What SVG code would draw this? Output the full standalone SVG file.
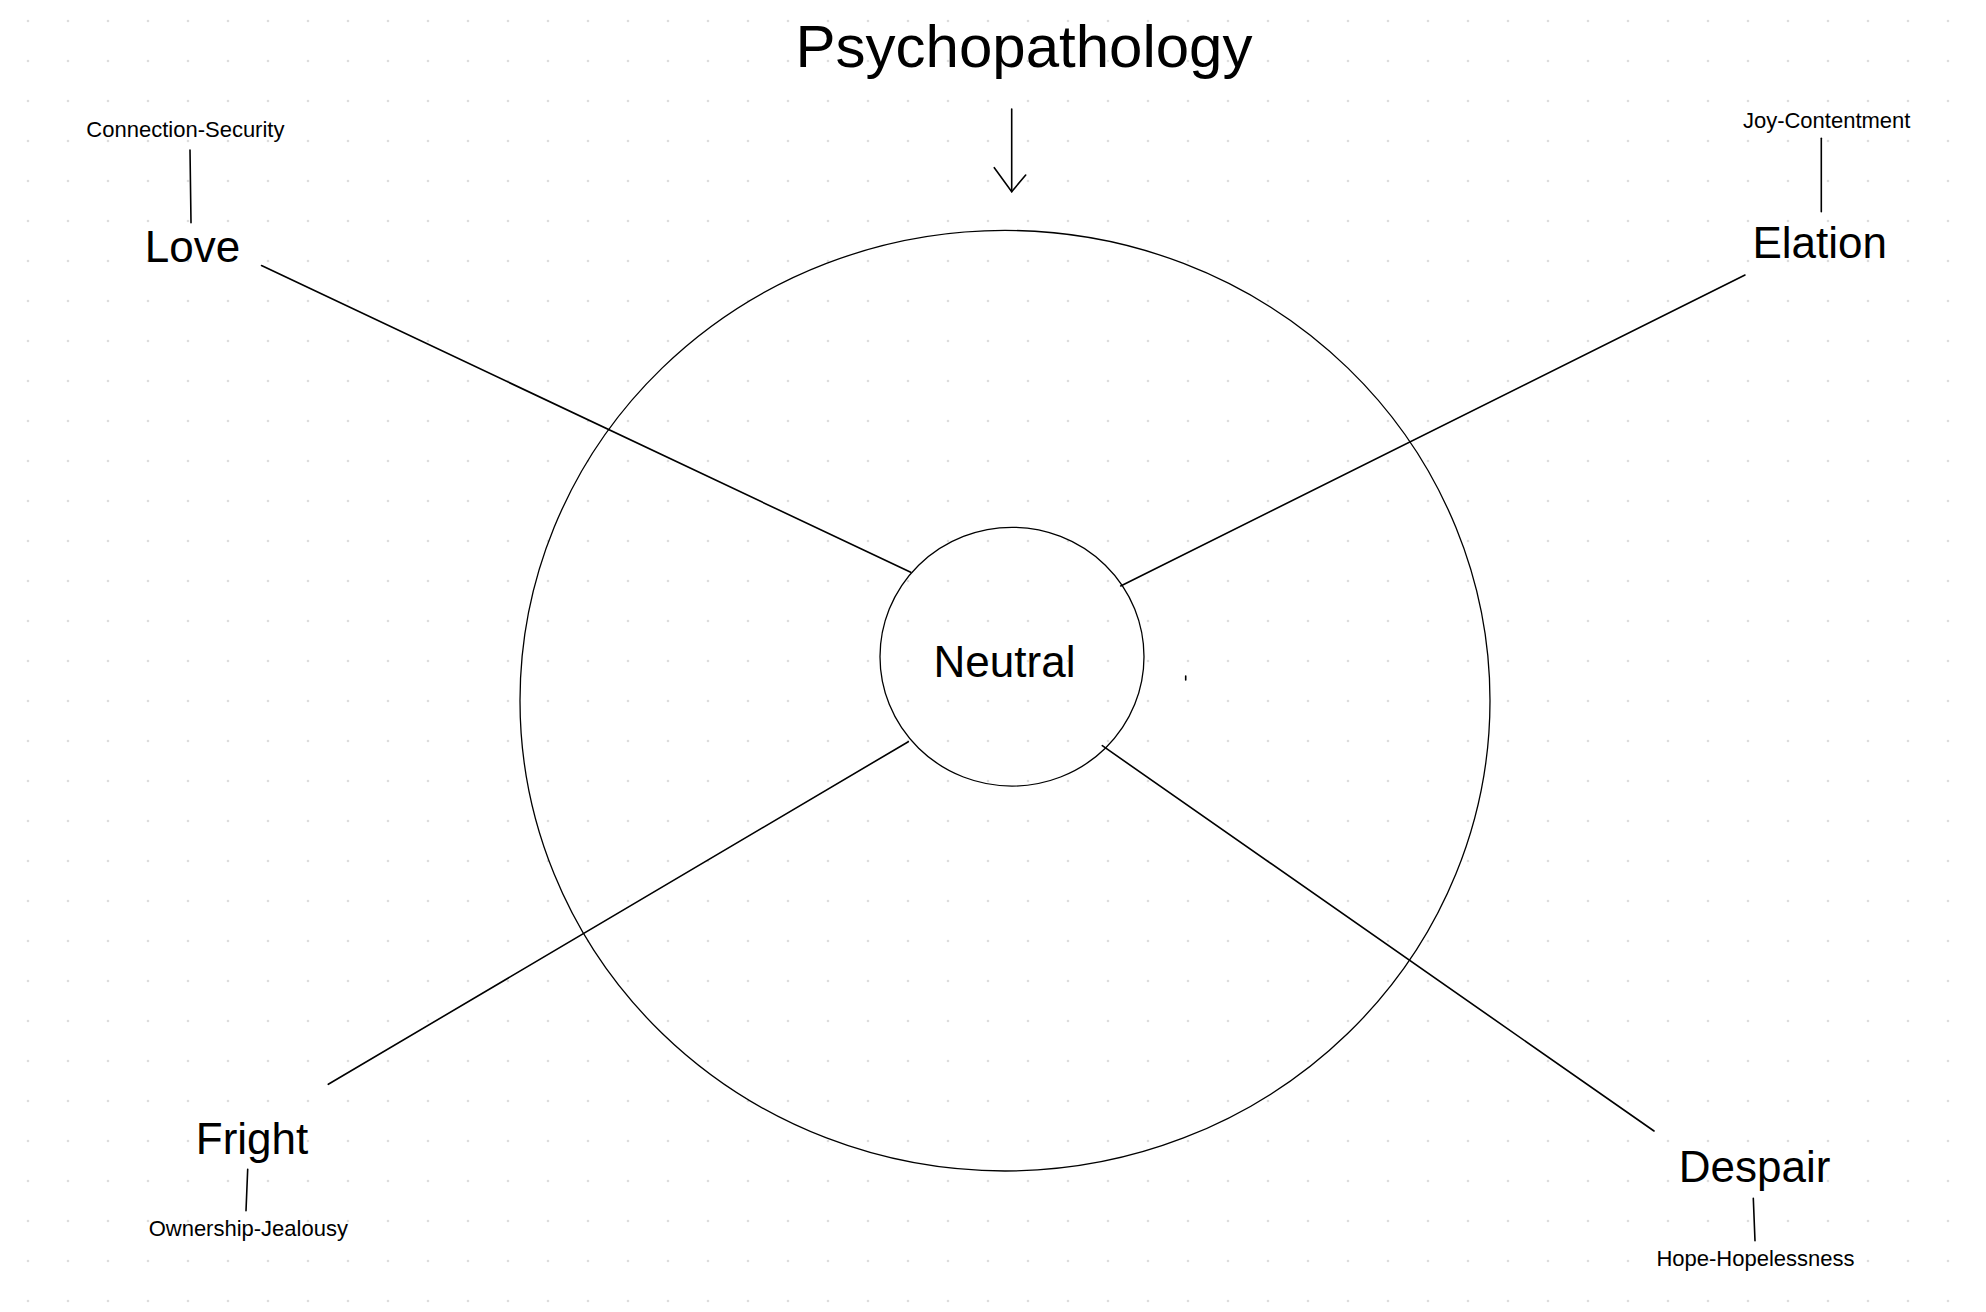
<svg xmlns="http://www.w3.org/2000/svg" width="1986" height="1312" viewBox="0 0 1986 1312">
<defs>
<pattern id="dots" x="28" y="21" width="40" height="40" patternUnits="userSpaceOnUse">
<circle cx="0" cy="0" r="1.3" fill="#dddddd"/>
<circle cx="40" cy="0" r="1.3" fill="#dddddd"/>
<circle cx="0" cy="40" r="1.3" fill="#dddddd"/>
<circle cx="40" cy="40" r="1.3" fill="#dddddd"/>
</pattern>
<style>
text{font-family:"Liberation Sans",Arial,sans-serif;fill:#000;text-anchor:middle}
.big{font-size:44px}
.title{font-size:60px}
.small{font-size:22px}
.ring{fill:none;stroke:#000;stroke-width:1.3}
.conn{stroke:#000;stroke-width:1.6;fill:none;stroke-linecap:round}
</style>
</defs>
<rect width="1986" height="1312" fill="#ffffff"/>
<rect width="1986" height="1312" fill="url(#dots)"/>

<g id="outer-circle">
<ellipse class="ring" cx="1005" cy="700.7" rx="485" ry="470.3"/>
</g>

<g id="connectors">
<line class="conn" x1="261.5" y1="265.5" x2="910.7" y2="572.3"/>
<line class="conn" x1="1745" y1="275" x2="1120.7" y2="586"/>
<line class="conn" x1="328.3" y1="1084.3" x2="908.3" y2="741.7"/>
<line class="conn" x1="1654" y1="1131" x2="1102.3" y2="745.7"/>
<line class="conn" x1="190" y1="150" x2="191" y2="222.7"/>
<line class="conn" x1="1821.3" y1="138.3" x2="1821.3" y2="211.7"/>
<line class="conn" x1="247.7" y1="1169.3" x2="246" y2="1210.7"/>
<line class="conn" x1="1753.3" y1="1198.3" x2="1755" y2="1240.7"/>
<line class="conn" x1="1011.7" y1="109" x2="1011.7" y2="191.7"/>
<polyline class="conn" points="994.3,167.7 1011.7,191.7 1025.7,175"/>
<line class="conn" x1="1185.7" y1="676" x2="1185.7" y2="680" stroke-width="1.2"/>
</g>

<g id="title">
<text class="title" x="1024" y="66.7">Psychopathology</text>
</g>

<g id="neutral">
<ellipse class="ring" cx="1012" cy="656.7" rx="132" ry="129.4" fill="#ffffff"/>
<text class="big" x="1004.5" y="676.7">Neutral</text>
</g>

<g id="love">
<text class="big" x="192.5" y="261.7">Love</text>
<text class="small" x="185.4" y="136.7">Connection-Security</text>
</g>

<g id="elation">
<text class="big" x="1819.7" y="258.3">Elation</text>
<text class="small" x="1826.7" y="127.7">Joy-Contentment</text>
</g>

<g id="fright">
<text class="big" x="252" y="1154">Fright</text>
<text class="small" x="248.3" y="1236">Ownership-Jealousy</text>
</g>

<g id="despair">
<text class="big" x="1754.5" y="1181.7">Despair</text>
<text class="small" x="1755.5" y="1266">Hope-Hopelessness</text>
</g>
</svg>
